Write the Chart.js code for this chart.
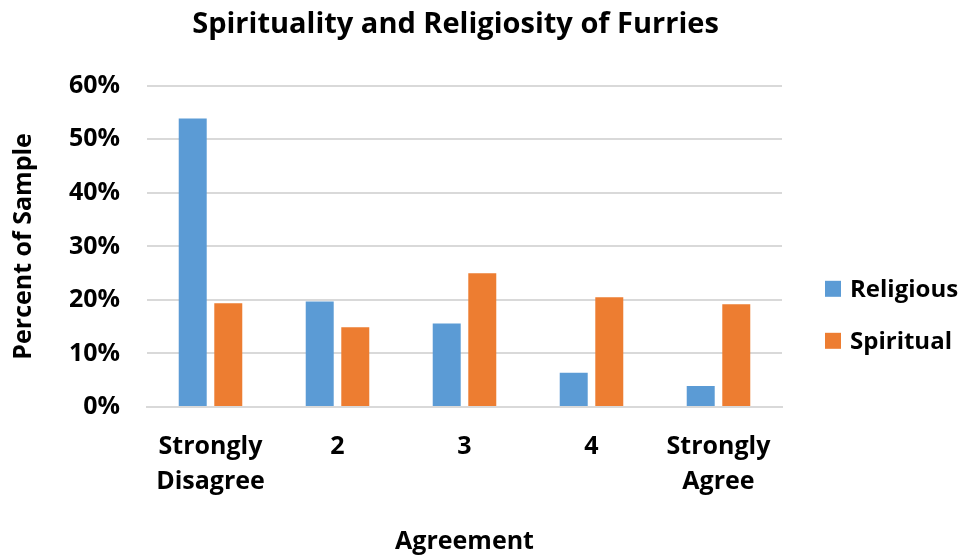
<!DOCTYPE html>
<html>
<head>
<meta charset="utf-8">
<script src="https://cdn.jsdelivr.net/npm/chart.js@4.4.1/dist/chart.umd.min.js"></script>
<style>
  html, body { margin: 0; padding: 0; background: #fff; }
  #wrap { width: 961px; height: 557px; position: relative; }
</style>
</head>
<body>
<div id="wrap"><canvas id="chart"></canvas></div>
<script>
const categories = [['Strongly', 'Disagree'], '2', '3', '4', ['Strongly', 'Agree']];
const religious = [53.9, 19.7, 15.6, 6.4, 3.9];
const spiritual = [19.4, 14.9, 25.0, 20.5, 19.2];
const yTicks = [0, 10, 20, 30, 40, 50, 60];

const FONT = '"Open Sans", sans-serif';
const TXT = '#000000';

// legend drawn by hand so it sits where the original puts it
const sideLegend = {
    id: 'sideLegend',
    afterDraw(chart) {
        const ctx = chart.ctx;
        const area = chart.chartArea;
        const x = area.right + 43;
        ctx.save();
        ctx.font = 'bold 24px ' + FONT;
        ctx.textBaseline = 'middle';
        ctx.textAlign = 'left';
        chart.data.datasets.forEach((ds, i) => {
            const y = area.top + 203 + i * 52;
            ctx.fillStyle = ds.backgroundColor;
            ctx.fillRect(x, y - 8, 16, 16);
            ctx.fillStyle = TXT;
            ctx.fillText(ds.label, x + 25, y + 1);
        });
        ctx.restore();
    }
};

new Chart(document.getElementById('chart'), {
    type: 'bar',
    data: {
        labels: categories,
        datasets: [
            { label: 'Religious', data: religious, backgroundColor: '#5B9BD5' },
            { label: 'Spiritual', data: spiritual, backgroundColor: '#ED7D31' }
        ]
    },
    plugins: [sideLegend],
    options: {
        responsive: true,
        maintainAspectRatio: false,
        animation: false,
        categoryPercentage: 0.56,
        barPercentage: 0.787,
        layout: { padding: { left: 0, right: 50, top: 7, bottom: 0 } },
        plugins: {
            title: {
                display: true,
                text: 'Spirituality and Religiosity of Furries',
                color: TXT,
                font: { family: FONT, size: 29, weight: 'bold', lineHeight: 1.2 },
                padding: { top: 0, bottom: 44 }
            },
            legend: { display: false },
            tooltip: { enabled: false }
        },
        scales: {
            x: {
                afterFit: (s) => { s.height = 150; },
                grid: { display: false },
                border: { color: '#d9d9d9', width: 2 },
                ticks: { color: TXT, font: { family: FONT, size: 25, weight: 'bold', lineHeight: 1.4 }, maxRotation: 0, padding: 14 },
                title: { display: true, text: 'Agreement', color: TXT, font: { family: FONT, size: 25, weight: 'bold' }, padding: { top: 30, bottom: 0 } }
            },
            y: {
                min: 0,
                max: 60,
                afterFit: (s) => { s.width = 147; },
                afterBuildTicks: (s) => { s.ticks = yTicks.map(v => ({ value: v })); },
                grid: { color: '#d9d9d9', lineWidth: 2, drawTicks: false },
                border: { display: false },
                ticks: { color: TXT, font: { family: FONT, size: 25, weight: 'bold' }, padding: 27, callback: v => v + '%' },
                title: { display: true, text: 'Percent of Sample', color: TXT, font: { family: FONT, size: 25, weight: 'bold' }, padding: { top: 9, bottom: 0 } }
            },
            // empty box on the right, keeps room for the legend
            side: {
                type: 'linear',
                position: 'right',
                display: true,
                afterFit: (s) => { s.width = 129; },
                grid: { display: false },
                border: { display: false },
                ticks: { display: false }
            }
        }
    }
});
</script>
</body>
</html>
